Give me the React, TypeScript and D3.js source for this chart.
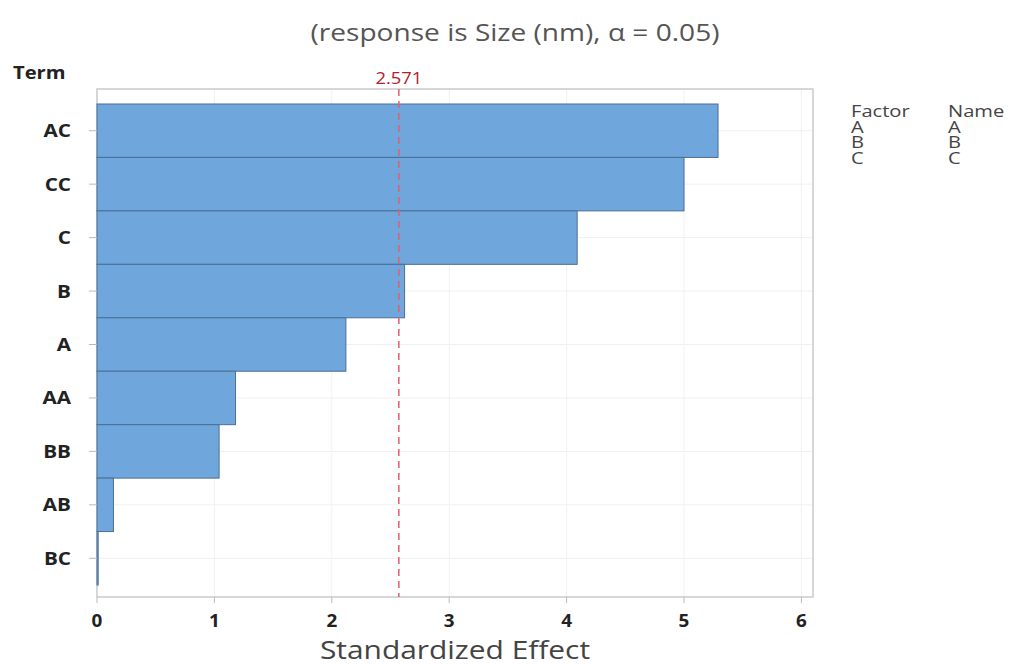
import React from "react";
import * as d3 from "d3";

const terms = ["AC", "CC", "C", "B", "A", "AA", "BB", "AB", "BC"];
const effects = [5.29, 5.0, 4.09, 2.62, 2.12, 1.18, 1.04, 0.14, 0.01];
const xTicks = [0, 1, 2, 3, 4, 5, 6];
const critical = 2.571;
const legendFactors = ["A", "B", "C"];
const legendNames = ["A", "B", "C"];

const W = 1011;
const H = 664;
const left = 97;
const right = 813;
const top = 89;
const bottom = 597;
const font = "'Open Sans', 'Noto Sans', sans-serif";
const SX = 1.15;

function T({ x, y, anchor = "start", size, weight = 400, fill = "#333", sx = SX, children }: any) {
  return (
    <text
      transform={`translate(${x},${y}) scale(${sx},1)`}
      textAnchor={anchor}
      fontFamily={font}
      fontSize={size}
      fontWeight={weight}
      fill={fill}
    >
      {children}
    </text>
  );
}

export default function App() {
  const x = d3.scaleLinear().domain([0, 6.1]).range([left, left + 6.1 * 117.4]);
  const y = d3.scaleBand<string>().domain(terms).range([104, 585]).paddingInner(0);

  return (
    <svg width={W} height={H} style={{ position: "absolute", left: 0, top: 0, background: "#fff" }}>
      <T x={515} y={41} anchor="middle" size={24} fill="#555" sx={1.17}>
        (response is Size (nm), α = 0.05)
      </T>
      {/* grid */}
      {xTicks.map((t) => (
        <line key={"gx" + t} x1={x(t)} x2={x(t)} y1={top} y2={bottom} stroke="#f0f0f0" strokeWidth={1} />
      ))}
      {terms.map((t) => (
        <line
          key={"gy" + t}
          x1={left}
          x2={right}
          y1={(y(t) as number) + y.bandwidth() / 2}
          y2={(y(t) as number) + y.bandwidth() / 2}
          stroke="#f0f0f0"
          strokeWidth={1}
        />
      ))}
      {/* frame */}
      <rect x={left} y={top} width={right - left} height={bottom - top} fill="none" stroke="#cacaca" strokeWidth={1.5} />
      {/* bars */}
      {terms.map((t, i) => (
        <rect
          key={"b" + t}
          x={x(0)}
          y={y(t) as number}
          width={Math.max(x(effects[i]) - x(0), 1)}
          height={y.bandwidth()}
          fill="#6fa6dc"
          stroke="#4b6f96"
          strokeWidth={1}
        />
      ))}
      {/* reference line */}
      <line
        x1={x(critical)}
        x2={x(critical)}
        y1={top}
        y2={bottom}
        stroke="#e06070"
        strokeWidth={1.5}
        strokeDasharray="7,5"
      />
      <T x={x(critical)} y={84} anchor="middle" size={16} fill="#b0202a">
        {critical}
      </T>
      {/* y axis */}
      <T x={13} y={79} size={18} weight={700} fill="#222" sx={1.12}>
        Term
      </T>
      {terms.map((t) => {
        const cy = (y(t) as number) + y.bandwidth() / 2;
        return (
          <g key={"yl" + t}>
            <line x1={89} x2={left} y1={cy} y2={cy} stroke="#bbb" />
            <T x={71} y={cy + 6.5} anchor="end" size={18} weight={700} fill="#222">
              {t}
            </T>
          </g>
        );
      })}
      {/* x axis */}
      {xTicks.map((t) => (
        <g key={"xt" + t}>
          <line x1={x(t)} x2={x(t)} y1={bottom} y2={bottom + 6} stroke="#bbb" />
          <T x={x(t)} y={bottom + 30} anchor="middle" size={18} weight={700} fill="#222" sx={1.05}>
            {t}
          </T>
        </g>
      ))}
      <T x={455} y={659} anchor="middle" size={26} fill="#444">
        Standardized Effect
      </T>
      {/* legend */}
      <T x={851} y={117} size={16.5} fill="#444" sx={1.22}>Factor</T>
      <T x={948} y={117} size={16.5} fill="#444" sx={1.22}>Name</T>
      {legendFactors.map((f, i) => (
        <g key={"lg" + f}>
          <T x={851} y={132.5 + i * 15.5} size={16.5} fill="#444" sx={1.22}>{f}</T>
          <T x={948} y={132.5 + i * 15.5} size={16.5} fill="#444" sx={1.22}>{legendNames[i]}</T>
        </g>
      ))}
    </svg>
  );
}
